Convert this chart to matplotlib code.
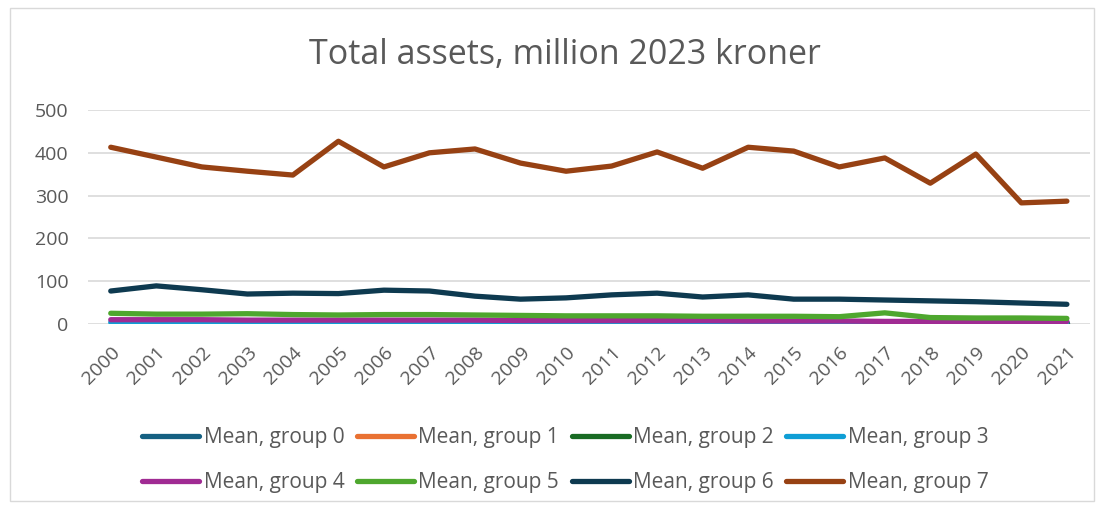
import matplotlib
matplotlib.use('Agg')
import matplotlib.pyplot as plt
from matplotlib.patches import Rectangle

plt.rcParams.update({
    'font.family': ['Open Sans', 'DejaVu Sans'],
    'text.color': '#595959',
    'xtick.color': '#595959',
    'ytick.color': '#595959',
})

years = list(range(2000, 2022))

group_0 = [2, 2, 2, 2, 2, 2, 2, 2, 2, 2, 2, 2, 2, 2, 2, 2, 2, 2, 2, 2, 2, 2]
group_1 = [1, 1, 1, 1, 1, 1, 1, 1, 1, 1, 1, 1, 1, 1, 1, 1, 1, 1, 1, 1, 1, 1]
group_2 = [1.5, 1.5, 1.5, 1.5, 1.5, 1.5, 1.5, 1.5, 1.5, 1.5, 1.5, 1.5, 1.5,
           1.5, 1.5, 1.5, 1.5, 1.5, 1.5, 1.5, 1.5, 1.5]
group_3 = [4, 4, 4, 3, 3, 3, 3, 3, 3, 3, 3, 3, 3, 3, 3, 3, 3, 3, 3, 3, 3, 3]
group_4 = [10, 10, 10, 9, 9, 9, 9, 9, 9, 8, 8, 8, 8, 8, 7, 7, 7, 6, 6, 6, 6, 6]
group_5 = [25, 23, 23, 24, 22, 21, 22, 22, 21, 20, 19, 19, 19, 18, 18, 18,
           17, 26, 15, 14, 14, 13]
group_6 = [77, 89, 80, 70, 72, 71, 79, 77, 65, 58, 61, 68, 72, 63, 68, 58,
           58, 56, 54, 52, 49, 46]
group_7 = [413, 390, 367, 357, 348, 427, 367, 400, 409, 376, 357, 369, 402,
           364, 413, 404, 367, 388, 329, 397, 283, 287]

series = [group_0, group_1, group_2, group_3, group_4, group_5, group_6, group_7]
labels = [f'Mean, group {i}' for i in range(8)]
colors = ['#156082', '#E97132', '#196B24', '#0F9ED5',
          '#A02B93', '#4EA72E', '#0E3A50', '#974113']

fig = plt.figure(figsize=(11.04, 5.07), dpi=100)
ax = fig.add_axes([0.0797, 0.361, 0.9073, 0.422])

x = list(range(len(years)))
lines = []
for vals, lab, col in zip(series, labels, colors):
    ln, = ax.plot(x, vals, color=col, lw=3.8, label=lab,
                  solid_capstyle='round', solid_joinstyle='round')
    lines.append(ln)

ax.set_xlim(-0.5, len(years) - 0.5)
ax.set_ylim(0, 500)
ax.set_yticks([0, 100, 200, 300, 400, 500])
ax.set_xticks(x)
ax.set_xticklabels([str(y) for y in years], rotation=45, ha='right',
                   rotation_mode='anchor', fontsize=14)
ax.tick_params(axis='y', labelsize=14, length=0, pad=14)
ax.tick_params(axis='x', length=0, pad=14)
ax.yaxis.grid(True, color='#d9d9d9', linewidth=1.2)
ax.set_axisbelow(True)
for s in ax.spines.values():
    s.set_visible(False)

fig.text(0.512, 0.892, 'Total assets, million 2023 kroner', ha='center',
         va='center', fontsize=24.5, color='#595959')

# legend filled row by row
order = [0, 4, 1, 5, 2, 6, 3, 7]
fig.legend([lines[i] for i in order], [labels[i] for i in order],
           loc='center', bbox_to_anchor=(0.512, 0.092), ncol=4, frameon=False,
           fontsize=15, handlelength=2.75, handletextpad=0.2, columnspacing=0.6,
           labelspacing=1.15)

fig.patches.append(Rectangle((0.009, 0.012), 0.982, 0.972, transform=fig.transFigure,
                             fill=False, edgecolor='#d9d9d9', linewidth=1))

fig.savefig('out.png', dpi=100)
